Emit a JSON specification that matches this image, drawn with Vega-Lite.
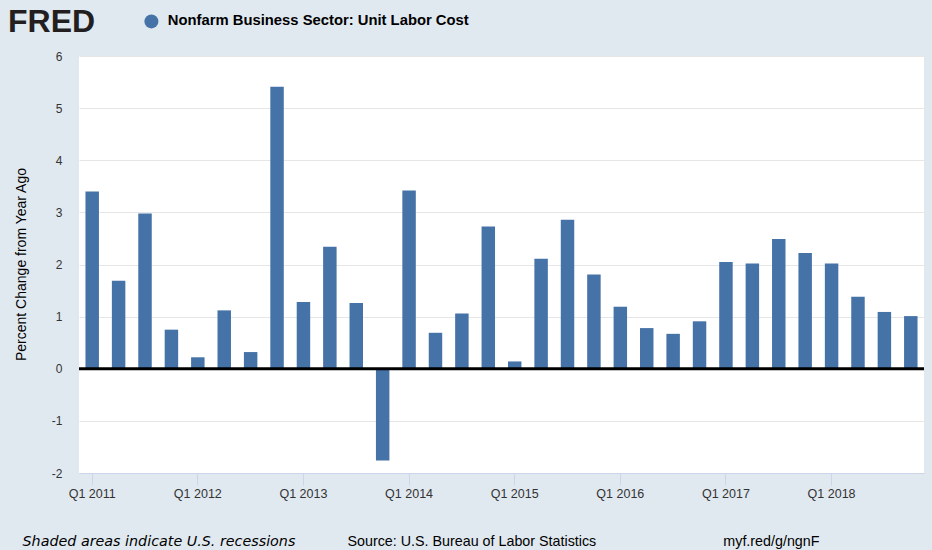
{
  "$schema": "https://vega.github.io/schema/vega-lite/v6.json",
  "width": 845,
  "height": 417,
  "autosize": {"type": "none"},
  "padding": {"left": 79, "top": 56, "right": 8, "bottom": 77},
  "background": "#e1e9f0",
  "view": {"fill": "white", "stroke": null},
  "title": {
    "text": "FRED",
    "orient": "top",
    "anchor": "start",
    "frame": "group",
    "font": "Liberation Sans",
    "fontSize": 32,
    "fontWeight": "bold",
    "color": "#231f20",
    "offset": 0,
    "dx": -71,
    "dy": 25
  },
  "layer": [
    {
      "data": {
        "values": [
          {"quarter": "Q1 2011", "value": 3.40, "series": "Nonfarm Business Sector: Unit Labor Cost"},
          {"quarter": "Q2 2011", "value": 1.69, "series": "Nonfarm Business Sector: Unit Labor Cost"},
          {"quarter": "Q3 2011", "value": 2.98, "series": "Nonfarm Business Sector: Unit Labor Cost"},
          {"quarter": "Q4 2011", "value": 0.75, "series": "Nonfarm Business Sector: Unit Labor Cost"},
          {"quarter": "Q1 2012", "value": 0.22, "series": "Nonfarm Business Sector: Unit Labor Cost"},
          {"quarter": "Q2 2012", "value": 1.12, "series": "Nonfarm Business Sector: Unit Labor Cost"},
          {"quarter": "Q3 2012", "value": 0.32, "series": "Nonfarm Business Sector: Unit Labor Cost"},
          {"quarter": "Q4 2012", "value": 5.41, "series": "Nonfarm Business Sector: Unit Labor Cost"},
          {"quarter": "Q1 2013", "value": 1.28, "series": "Nonfarm Business Sector: Unit Labor Cost"},
          {"quarter": "Q2 2013", "value": 2.34, "series": "Nonfarm Business Sector: Unit Labor Cost"},
          {"quarter": "Q3 2013", "value": 1.26, "series": "Nonfarm Business Sector: Unit Labor Cost"},
          {"quarter": "Q4 2013", "value": -1.76, "series": "Nonfarm Business Sector: Unit Labor Cost"},
          {"quarter": "Q1 2014", "value": 3.42, "series": "Nonfarm Business Sector: Unit Labor Cost"},
          {"quarter": "Q2 2014", "value": 0.69, "series": "Nonfarm Business Sector: Unit Labor Cost"},
          {"quarter": "Q3 2014", "value": 1.06, "series": "Nonfarm Business Sector: Unit Labor Cost"},
          {"quarter": "Q4 2014", "value": 2.73, "series": "Nonfarm Business Sector: Unit Labor Cost"},
          {"quarter": "Q1 2015", "value": 0.14, "series": "Nonfarm Business Sector: Unit Labor Cost"},
          {"quarter": "Q2 2015", "value": 2.11, "series": "Nonfarm Business Sector: Unit Labor Cost"},
          {"quarter": "Q3 2015", "value": 2.86, "series": "Nonfarm Business Sector: Unit Labor Cost"},
          {"quarter": "Q4 2015", "value": 1.81, "series": "Nonfarm Business Sector: Unit Labor Cost"},
          {"quarter": "Q1 2016", "value": 1.19, "series": "Nonfarm Business Sector: Unit Labor Cost"},
          {"quarter": "Q2 2016", "value": 0.78, "series": "Nonfarm Business Sector: Unit Labor Cost"},
          {"quarter": "Q3 2016", "value": 0.67, "series": "Nonfarm Business Sector: Unit Labor Cost"},
          {"quarter": "Q4 2016", "value": 0.91, "series": "Nonfarm Business Sector: Unit Labor Cost"},
          {"quarter": "Q1 2017", "value": 2.05, "series": "Nonfarm Business Sector: Unit Labor Cost"},
          {"quarter": "Q2 2017", "value": 2.02, "series": "Nonfarm Business Sector: Unit Labor Cost"},
          {"quarter": "Q3 2017", "value": 2.49, "series": "Nonfarm Business Sector: Unit Labor Cost"},
          {"quarter": "Q4 2017", "value": 2.22, "series": "Nonfarm Business Sector: Unit Labor Cost"},
          {"quarter": "Q1 2018", "value": 2.02, "series": "Nonfarm Business Sector: Unit Labor Cost"},
          {"quarter": "Q2 2018", "value": 1.38, "series": "Nonfarm Business Sector: Unit Labor Cost"},
          {"quarter": "Q3 2018", "value": 1.09, "series": "Nonfarm Business Sector: Unit Labor Cost"},
          {"quarter": "Q4 2018", "value": 1.01, "series": "Nonfarm Business Sector: Unit Labor Cost"}
        ]
      },
      "mark": {"type": "bar"},
      "encoding": {
        "x": {
          "field": "quarter",
          "type": "ordinal",
          "sort": null,
          "scale": {"paddingInner": 0.49, "paddingOuter": 0.245},
          "axis": {
            "values": ["Q1 2011", "Q1 2012", "Q1 2013", "Q1 2014", "Q1 2015", "Q1 2016", "Q1 2017", "Q1 2018"],
            "labelAngle": 0,
            "labelFont": "Liberation Sans",
            "labelFontSize": 12.5,
            "labelColor": "#333333",
            "labelPadding": 2,
            "tickSize": 12,
            "tickColor": "#ccd6eb",
            "domainColor": "#ccd6eb",
            "grid": false,
            "title": "Shaded areas indicate U.S. recessions",
            "titleFont": "DejaVu Sans",
            "titleFontSize": 14.3,
            "titleFontStyle": "italic",
            "titleFontWeight": "normal",
            "titleColor": "#000000",
            "titleX": -57,
            "titleY": 72,
            "titleAlign": "left",
            "titleBaseline": "alphabetic"
          }
        },
        "y": {
          "field": "value",
          "type": "quantitative",
          "scale": {"domain": [-2, 6], "nice": false},
          "axis": {
            "values": [-2, -1, 0, 1, 2, 3, 4, 5, 6],
            "labelExpr": "'' + datum.value",
            "grid": true,
            "gridColor": "#e6e6e6",
            "domain": false,
            "ticks": false,
            "labelPadding": 17,
            "labelFont": "Liberation Sans",
            "labelFontSize": 12,
            "labelColor": "#333333",
            "title": "Percent Change from Year Ago",
            "titleFont": "Liberation Sans",
            "titleFontSize": 14,
            "titleFontWeight": "normal",
            "titleColor": "#000000",
            "titleX": -58,
            "titleY": 208,
            "titleAlign": "center",
            "titleBaseline": "middle"
          }
        },
        "color": {
          "field": "series",
          "type": "nominal",
          "scale": {"range": ["#4572a7"]},
          "legend": {
            "orient": "none",
            "legendX": 65,
            "legendY": -42,
            "title": null,
            "padding": 0,
            "symbolType": "circle",
            "symbolSize": 196,
            "symbolStrokeWidth": 0,
            "labelFont": "Liberation Sans",
            "labelFontSize": 14.8,
            "labelFontWeight": "bold",
            "labelColor": "#000000",
            "labelOffset": 9,
            "labelLimit": 600
          }
        }
      }
    },
    {
      "data": {"values": [{"zero": 0}]},
      "mark": {"type": "rule", "color": "#000000", "strokeWidth": 3},
      "encoding": {
        "y": {
          "field": "zero",
          "type": "quantitative",
          "scale": {"domain": [-2, 6], "nice": false},
          "axis": {
            "orient": "right",
            "labels": false,
            "ticks": false,
            "domain": false,
            "grid": false,
            "title": "Source: U.S. Bureau of Labor Statistics\u00a0\u00a0\u00a0\u00a0\u00a0\u00a0\u00a0\u00a0\u00a0\u00a0\u00a0\u00a0\u00a0\u00a0\u00a0\u00a0\u00a0\u00a0\u00a0\u00a0\u00a0\u00a0\u00a0\u00a0\u00a0\u00a0\u00a0\u00a0\u00a0\u00a0\u00a0\u00a0myf.red/g/ngnF",
            "titleFont": "Liberation Sans",
            "titleFontSize": 14.3,
            "titleFontWeight": "normal",
            "titleColor": "#000000",
            "titleAngle": 0,
            "titleX": -577,
            "titleY": 489.5,
            "titleAlign": "left",
            "titleBaseline": "alphabetic",
            "titleLimit": 1000
          }
        }
      }
    },
    {
      "mark": {"type": "rule", "color": "#c9d3e6", "strokeWidth": 1.5},
      "encoding": {
        "y": {"datum": -2.556, "axis": null}
      }
    }
  ],
  "resolve": {"axis": {"y": "independent"}}
}
